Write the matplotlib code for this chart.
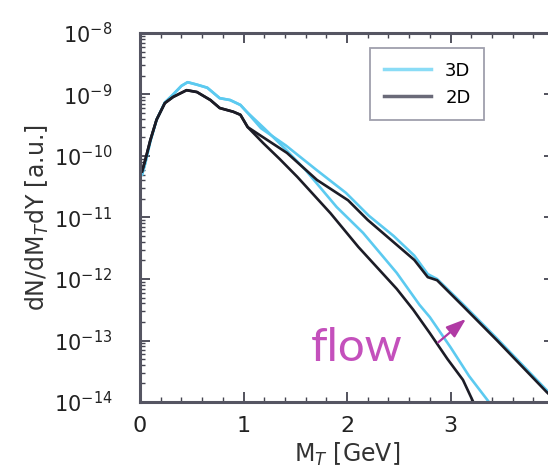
import numpy as np
import matplotlib
matplotlib.use("Agg")
import matplotlib.pyplot as plt
from matplotlib.ticker import LogLocator, MultipleLocator, NullFormatter

# x in GeV, y as log10 of dN/dM_T dY
x_2d_low = [0.02, 0.05, 0.10, 0.16, 0.24, 0.32, 0.45, 0.55, 0.68, 0.77, 0.90, 0.97, 1.04,
            1.19, 1.35, 1.52, 1.84, 2.11, 2.48, 2.64, 2.80, 2.97, 3.12, 3.22, 3.30]
y_2d_low = [-10.25, -10.07, -9.74, -9.41, -9.14, -9.04, -8.93, -8.96, -9.09, -9.22, -9.28, -9.33, -9.53,
            -9.79, -10.05, -10.34, -10.93, -11.48, -12.16, -12.50, -12.88, -13.30, -13.64, -14.00, -14.20]

x_3d_low = [0.02, 0.05, 0.10, 0.16, 0.24, 0.32, 0.40, 0.46, 0.55, 0.65, 0.77, 0.87, 0.97, 1.03,
            1.20, 1.40, 1.60, 1.90, 2.155, 2.48, 2.70, 2.80, 3.00, 3.18, 3.38, 3.45]
y_3d_low = [-10.30, -10.12, -9.76, -9.41, -9.13, -9.00, -8.86, -8.80, -8.84, -8.89, -9.06, -9.09, -9.17, -9.28,
            -9.55, -9.88, -10.23, -10.83, -11.25, -11.90, -12.42, -12.62, -13.11, -13.58, -14.02, -14.20]

x_2d_high = [0.02, 0.05, 0.10, 0.16, 0.24, 0.32, 0.45, 0.55, 0.68, 0.77, 0.90, 0.97, 1.04,
             1.13, 1.42, 1.71, 2.01, 2.20, 2.65, 2.78, 2.87, 3.12, 3.45, 3.93, 4.00]
y_2d_high = [-10.25, -10.07, -9.74, -9.41, -9.14, -9.04, -8.93, -8.96, -9.09, -9.22, -9.28, -9.33, -9.53,
             -9.63, -9.95, -10.39, -10.72, -11.04, -11.69, -11.97, -12.02, -12.44, -13.00, -13.84, -13.95]

x_3d_high = [0.02, 0.05, 0.10, 0.16, 0.24, 0.32, 0.40, 0.46, 0.55, 0.65, 0.77, 0.87, 0.97, 1.03,
             1.17, 1.41, 1.70, 1.99, 2.21, 2.45, 2.65, 2.78, 2.87, 3.12, 3.45, 3.93, 4.00]
y_3d_high = [-10.30, -10.12, -9.76, -9.41, -9.13, -9.00, -8.86, -8.80, -8.84, -8.89, -9.06, -9.09, -9.17, -9.28,
             -9.55, -9.83, -10.22, -10.60, -10.97, -11.30, -11.62, -11.92, -12.00, -12.41, -12.97, -13.81, -13.92]

x_ticks = [0, 1, 2, 3, 4]
x_ticklabels = ['0', '1', '2', '3', '']   # the "4" falls off the right edge
y_ticks = [1e-14, 1e-13, 1e-12, 1e-11, 1e-10, 1e-9, 1e-8]

cyan = '#5ccaf0'
black = '#1c1c26'
magenta = '#c450bc'

fig = plt.figure(figsize=(5.48, 4.72), dpi=100)
# the right edge of the frame is cut off in the original
ax = fig.add_axes([0.2555, 0.1483, 0.7555, 0.7818])

ax.plot(x_3d_low, 10 ** np.array(y_3d_low), color=cyan, lw=1.9)
ax.plot(x_3d_high, 10 ** np.array(y_3d_high), color=cyan, lw=1.9, label='3D')
ax.plot(x_2d_low, 10 ** np.array(y_2d_low), color=black, lw=1.9)
ax.plot(x_2d_high, 10 ** np.array(y_2d_high), color=black, lw=1.9, label='2D')

ax.set_yscale('log')
ax.set_xlim(0, 4)
ax.set_ylim(1e-14, 1e-8)

ax.set_xticks(x_ticks, x_ticklabels)
ax.xaxis.set_minor_locator(MultipleLocator(0.2))
ax.set_yticks(y_ticks)
ax.yaxis.set_minor_locator(LogLocator(base=10, subs=np.arange(2, 10), numticks=20))
ax.yaxis.set_minor_formatter(NullFormatter())

ax.tick_params(which='both', direction='in', top=True, right=True, color='#444450')
ax.tick_params(which='major', length=7, width=1.3)
ax.tick_params(which='minor', length=3.5, width=1.0)
ax.tick_params(axis='y', which='major', labelsize=15, pad=20, labelcolor='#222222')
ax.tick_params(axis='x', which='major', labelsize=16, pad=10, labelcolor='#222222')

for s in ax.spines.values():
    s.set_linewidth(2.2)
    s.set_color('#555562')

ax.set_xlabel('M$_T$ [GeV]', fontsize=17, color='#333333')
ax.set_ylabel('dN/dM$_T$dY [a.u.]', fontsize=17, color='#333333')
ax.xaxis.set_label_coords(0.5, -0.105)
ax.yaxis.set_label_coords(-0.215, 0.5)

leg = ax.legend(loc='upper left', bbox_to_anchor=(0.556, 0.959), fontsize=13,
                frameon=True, fancybox=False, handlelength=2.6, borderpad=0.75,
                labelspacing=0.5, handletextpad=0.8, borderaxespad=0)
leg.get_frame().set_edgecolor('#888898')
leg.get_frame().set_linewidth(1.3)
for h, c in zip(leg.get_lines(), ['#8adcf6', '#6a6a78']):
    h.set_color(c)
    h.set_linewidth(2.5)

ax.text(2.09, 10 ** -13.12, 'flow', color=magenta, fontsize=34, family='Lato',
        ha='center', va='center')
ax.annotate('', xy=(3.17, 10 ** -12.62), xytext=(2.86, 10 ** -13.06),
            arrowprops=dict(arrowstyle='-|>,head_length=1.0,head_width=0.35',
                            color='#b03aa4', lw=1.6, mutation_scale=12))

fig.savefig('out.png', dpi=100)
